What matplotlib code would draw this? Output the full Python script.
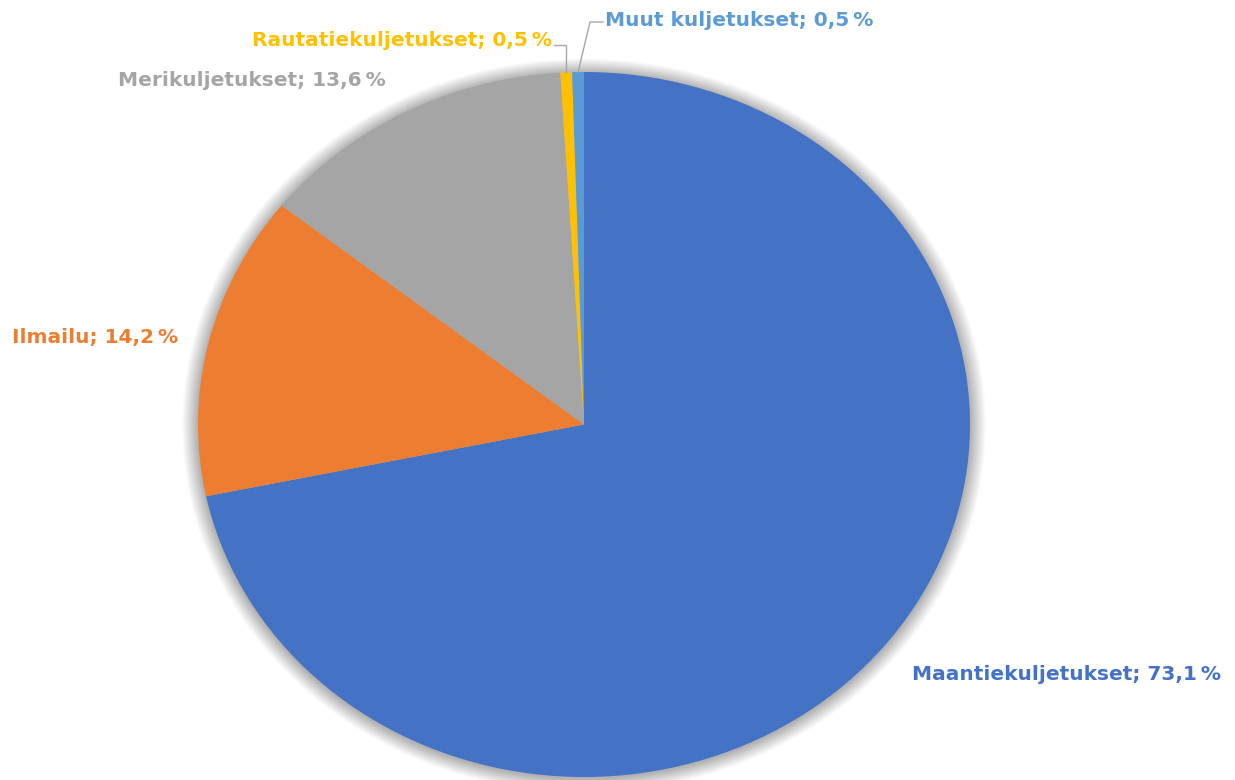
import numpy as np
import matplotlib
matplotlib.use("Agg")
import matplotlib.pyplot as plt
from matplotlib.patches import Ellipse

# Transport emissions shares (%)
categories = ["Maantiekuljetukset", "Ilmailu", "Merikuljetukset",
              "Rautatiekuljetukset", "Muut kuljetukset"]
shares = [73.1, 14.2, 13.6, 0.5, 0.5]
colors = ["#4472C4", "#ED7D31", "#A5A5A5", "#FFC000", "#5B9BD5"]

plt.rcParams["font.family"] = ["DejaVu Sans"]

fig = plt.figure(figsize=(12.35, 7.80), dpi=100)
W, H = 1235, 780
# axes box in pixels: the pie fills it and is stretched horizontally
px0, px1, py_top, py_bot = 198, 970, 72, 777
ax = fig.add_axes([px0 / W, (H - py_bot) / H, (px1 - px0) / W, (py_bot - py_top) / H])

# soft shadow around the pie
n_layers = 26
for i in range(n_layers):
    s = 1.0 + 0.0016 * (n_layers - i)
    ax.add_patch(Ellipse((0.0, -0.003), 2 * s, 2 * s, facecolor="#000000",
                         edgecolor="none", alpha=0.011, zorder=0, clip_on=False))

wedges, _ = ax.pie(shares, colors=colors, startangle=90, counterclock=False,
                   radius=1.0, wedgeprops=dict(linewidth=0, zorder=2))
ax.set_aspect("auto")
ax.set_xlim(-1, 1)
ax.set_ylim(-1, 1)
ax.axis("off")


def fmt(name, v):
    return f"{name}; {v:.1f}".replace(".", ",") + "\u2009%"


def to_data(xp, yp):
    """pixel position in the figure -> data coordinates of the pie axes"""
    return ((xp - px0) / (px1 - px0) * 2 - 1, 1 - (yp - py_top) / (py_bot - py_top) * 2)


total = sum(shares)
cum = np.cumsum([0] + shares)
mid_deg = [90 - 360 * (cum[i] + shares[i] / 2) / total for i in range(len(shares))]
edge_pts = [(np.cos(np.radians(a)), np.sin(np.radians(a))) for a in mid_deg]

fs = 14.5
# large slices: labels without leader lines
label_pos = {
    0: (to_data(912, 675), "left"),
    1: (to_data(12, 337), "left"),
    2: (to_data(118, 80), "left"),
}
for i, ((x, y), ha) in label_pos.items():
    ax.text(x, y, fmt(categories[i], shares[i]), color=colors[i], fontsize=fs,
            fontweight="bold", ha=ha, va="center", clip_on=False)

line_kw = dict(color="#A6A6A6", linewidth=1.0, clip_on=False, zorder=3)

# Rautatiekuljetukset label with leader
tx, ty = to_data(552, 41)
ax.text(tx, ty, fmt(categories[3], shares[3]), color=colors[3], fontsize=fs,
        fontweight="bold", ha="right", va="center", clip_on=False)
ex, ey = edge_pts[3]
kx, _ = to_data(554, 0)
ax.plot([kx, ex, ex], [ty - 0.012, ty - 0.012, ey], **line_kw)

# Muut kuljetukset label with leader
tx, ty = to_data(605, 20)
ax.text(tx, ty, fmt(categories[4], shares[4]), color=colors[4], fontsize=fs,
        fontweight="bold", ha="left", va="center", clip_on=False)
ex, ey = edge_pts[4]
kx, ky = to_data(590, 22)
ax.plot([to_data(603, 0)[0], kx, ex], [ky, ky, ey], **line_kw)

fig.savefig("out.png", dpi=100, facecolor="white")
